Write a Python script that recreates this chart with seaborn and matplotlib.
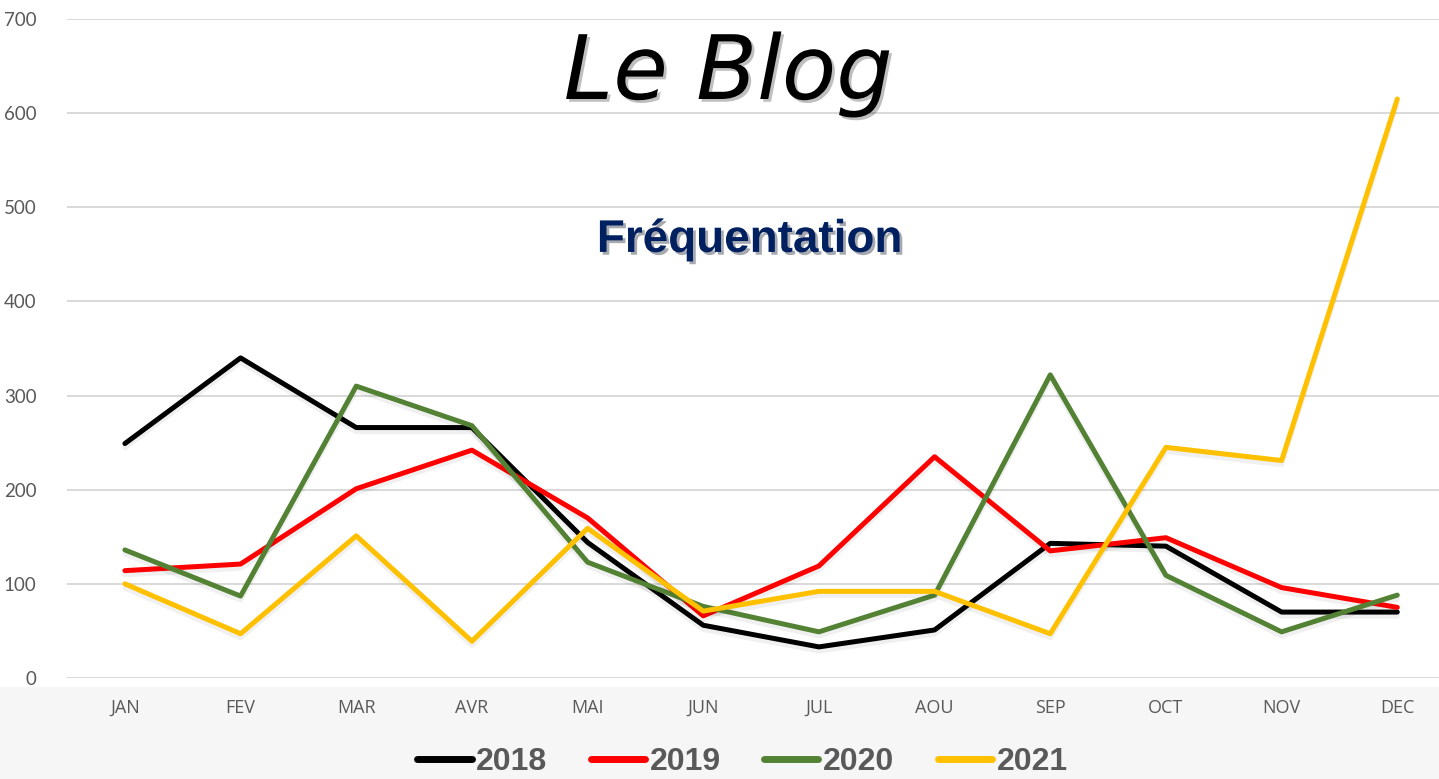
import numpy as np
import pandas as pd
import matplotlib
matplotlib.use("Agg")
import matplotlib.pyplot as plt
import matplotlib.patheffects as pe
import seaborn as sns

# --- data ---
months = ["JAN", "FEV", "MAR", "AVR", "MAI", "JUN",
          "JUL", "AOU", "SEP", "OCT", "NOV", "DEC"]
years = ["2018", "2019", "2020", "2021"]
v2018 = [249, 340, 266, 266, 144, 56, 33, 51, 143, 140, 70, 70]
v2019 = [114, 121, 201, 242, 170, 66, 119, 235, 135, 149, 96, 75]
v2020 = [136, 87, 310, 268, 123, 76, 49, 88, 322, 109, 49, 88]
v2021 = [100, 47, 151, 39, 159, 71, 92, 92, 47, 245, 231, 615]
yticks = [0, 100, 200, 300, 400, 500, 600, 700]

colors = {"2018": "#000000", "2019": "#FF0000", "2020": "#548235", "2021": "#FFC000"}

df = pd.DataFrame({
    "mois": months * 4,
    "annee": np.repeat(years, len(months)),
    "visites": v2018 + v2019 + v2020 + v2021,
})

sns.set_style("white")
plt.rcParams["font.family"] = ["Open Sans", "DejaVu Sans"]

fig = plt.figure(figsize=(14.39, 7.79), dpi=100)
fig.patch.set_facecolor("white")

# faded grey band at the bottom (background picture in the original)
fig.add_artist(plt.Rectangle((0, 0), 1, 0.118, transform=fig.transFigure,
                             facecolor="#f6f6f6", edgecolor="none", zorder=0))

ax = fig.add_axes([0.0466, 0.1297, 0.9646, 0.8459])
ax.set_facecolor("none")

sns.lineplot(data=df, x="mois", y="visites", hue="annee", palette=colors,
             sort=False, linewidth=3.6, ax=ax, legend=False,
             path_effects=[pe.SimpleLineShadow(offset=(0, -3), shadow_color="#000000",
                                               alpha=0.06, rho=1.0),
                           pe.Normal()])

ax.set_xlim(-0.5, len(months) - 0.5)
ax.set_ylim(0, 700)
ax.set_yticks(yticks)
ax.set_yticklabels([str(t) for t in yticks], color="#595959", fontsize=13.5,
                   family=["Lato", "DejaVu Sans"])
ax.tick_params(axis="x", colors="#595959", labelsize=13, length=0, pad=15)
ax.tick_params(axis="y", length=0, pad=22)
ax.set_xlabel("")
ax.set_ylabel("")
ax.grid(axis="y", color="#d9d9d9", linewidth=1.4)
ax.set_axisbelow(True)
for s in ax.spines.values():
    s.set_visible(False)

# titles
fig.text(0.506, 0.905, "Le Blog", ha="center", va="center", fontsize=64,
         color="black", family=["DejaVu Sans"], style="italic",
         path_effects=[pe.withSimplePatchShadow(offset=(2, -2), alpha=0.25)])
fig.text(0.521, 0.692, "Fréquentation", ha="center", va="center", fontsize=33,
         fontweight="bold", color="#002060", family=["Liberation Sans", "DejaVu Sans"],
         path_effects=[pe.withSimplePatchShadow(offset=(2, -2), alpha=0.35)])

# legend
handles = [plt.Line2D([], [], color=colors[y], linewidth=5, solid_capstyle="round")
           for y in years]
leg = fig.legend(handles, years, loc="center", bbox_to_anchor=(0.516, 0.022),
                 ncol=4, frameon=False, handlelength=1.7, handletextpad=0.15,
                 columnspacing=1.35, borderpad=0.1,
                 prop={"family": ["Liberation Sans", "DejaVu Sans"],
                       "weight": "bold", "size": 23})
for t in leg.get_texts():
    t.set_color("#595959")

fig.savefig("out.png", dpi=100, facecolor=fig.get_facecolor())
